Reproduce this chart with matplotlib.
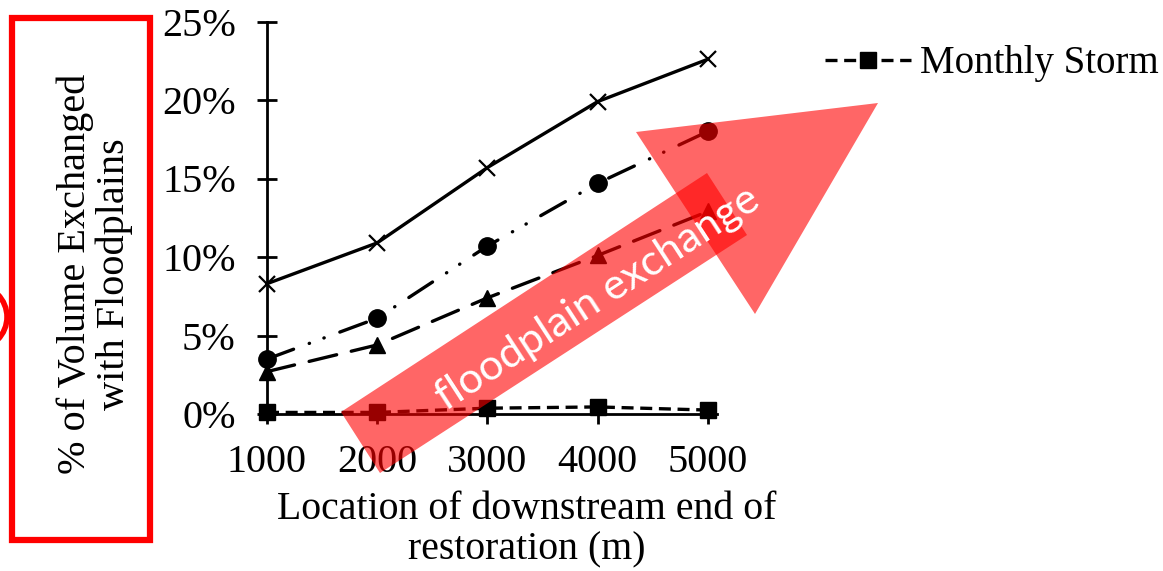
import matplotlib
matplotlib.use('Agg')
import matplotlib.pyplot as plt
from matplotlib.patches import Polygon, Rectangle, Circle
from matplotlib.ticker import PercentFormatter
from matplotlib.transforms import IdentityTransform

# ---- data ----
locations = [1000, 2000, 3000, 4000, 5000]
series_cross = [0.083, 0.109, 0.157, 0.199, 0.226]
series_circle = [0.035, 0.061, 0.107, 0.147, 0.180]
series_triangle = [0.027, 0.044, 0.074, 0.101, 0.129]
monthly_storm = [0.001, 0.001, 0.0037, 0.0045, 0.0025]
y_ticks = [0, 0.05, 0.10, 0.15, 0.20, 0.25]
legend_label = "Monthly Storm"
y_label = "% of Volume Exchanged\nwith Floodplains"
x_label = "Location of downstream end of\nrestoration (m)"
arrow_text = "floodplain exchange"

W, H = 1163, 571
plt.rcParams['font.family'] = ['Liberation Serif', 'DejaVu Serif']
fig = plt.figure(figsize=(W / 100, H / 100), dpi=100)
ax = fig.add_axes([267 / W, 1 - 414 / H, 450 / W, (414 - 21.5) / H])

lw = 2.4
ax.plot(locations, series_cross, color='black', lw=lw, ls='-', marker='x',
        ms=12, mew=1.6, clip_on=False, zorder=3)
ax.plot(locations, series_circle, color='black', lw=lw,
        dashes=(8.5, 5, 0.1, 4.6, 0.1, 5), dash_capstyle='round',
        marker='o', ms=12.5, clip_on=False, zorder=3)
ax.plot(locations, series_triangle, color='black', lw=lw,
        dashes=(8.5, 4.5), dash_capstyle='round',
        marker='^', ms=12, clip_on=False, zorder=3)
ms_line, = ax.plot(locations, monthly_storm, color='black', lw=lw,
                   dashes=(3.6, 2.0), marker='s', ms=12, clip_on=False,
                   zorder=3)

ax.set_xlim(1000, 5082)
ax.set_ylim(0, 0.25)
ax.set_xticks(locations)
ax.set_yticks(y_ticks)
ax.yaxis.set_major_formatter(PercentFormatter(1.0, decimals=0))
for s in ['top', 'right']:
    ax.spines[s].set_visible(False)
for s in ['left', 'bottom']:
    ax.spines[s].set_linewidth(2.0)
ax.tick_params(axis='both', direction='inout', length=15, width=2.0,
               labelsize=29)
ax.tick_params(axis='y', pad=15)
ax.tick_params(axis='x', pad=14)

# axis titles
fig.text(95 / W, 1 - 274 / H, y_label, rotation=90, ha='center', va='center',
         fontsize=29, multialignment='center', linespacing=1.05)
fig.text(527 / W, 1 - 530 / H, x_label, ha='center', va='center',
         fontsize=28.6, multialignment='center', linespacing=1.12)

# legend (only the visible entry)
fig.legend(handles=[ms_line], labels=[legend_label], loc='center left',
           bbox_to_anchor=(825 / W, 1 - 64 / H), frameon=False,
           handlelength=2.2, handletextpad=0.25, borderpad=0,
           borderaxespad=0, fontsize=28)

# overlay annotations in pixel coordinates
T = IdentityTransform()
def P(pts):
    return [(x, H - y) for x, y in pts]

red_alpha = 0.6
shaft = Polygon(P([(341, 412), (707, 173), (747, 235), (380, 473)]),
                closed=True, facecolor='red', edgecolor='none', alpha=red_alpha,
                transform=T, zorder=5)
head = Polygon(P([(636, 132), (878, 103), (755, 314)]), closed=True,
               facecolor='red', edgecolor='none', alpha=red_alpha,
               transform=T, zorder=5)
fig.add_artist(shaft)
fig.add_artist(head)
fig.text(598 / W, 1 - 298 / H, arrow_text, rotation=33, rotation_mode='anchor',
         ha='center', va='center', color='white', fontsize=31,
         family=['Lato', 'DejaVu Sans'], zorder=6)

box = Rectangle((12, H - 540), 138, 522, facecolor='none', edgecolor='red',
                lw=4.5, transform=T, zorder=5)
fig.add_artist(box)
ring = Circle((-25, H - 317), 32, facecolor='none', edgecolor='red', lw=4,
              transform=T, zorder=5)
fig.add_artist(ring)

fig.savefig('out.png', dpi=100)
